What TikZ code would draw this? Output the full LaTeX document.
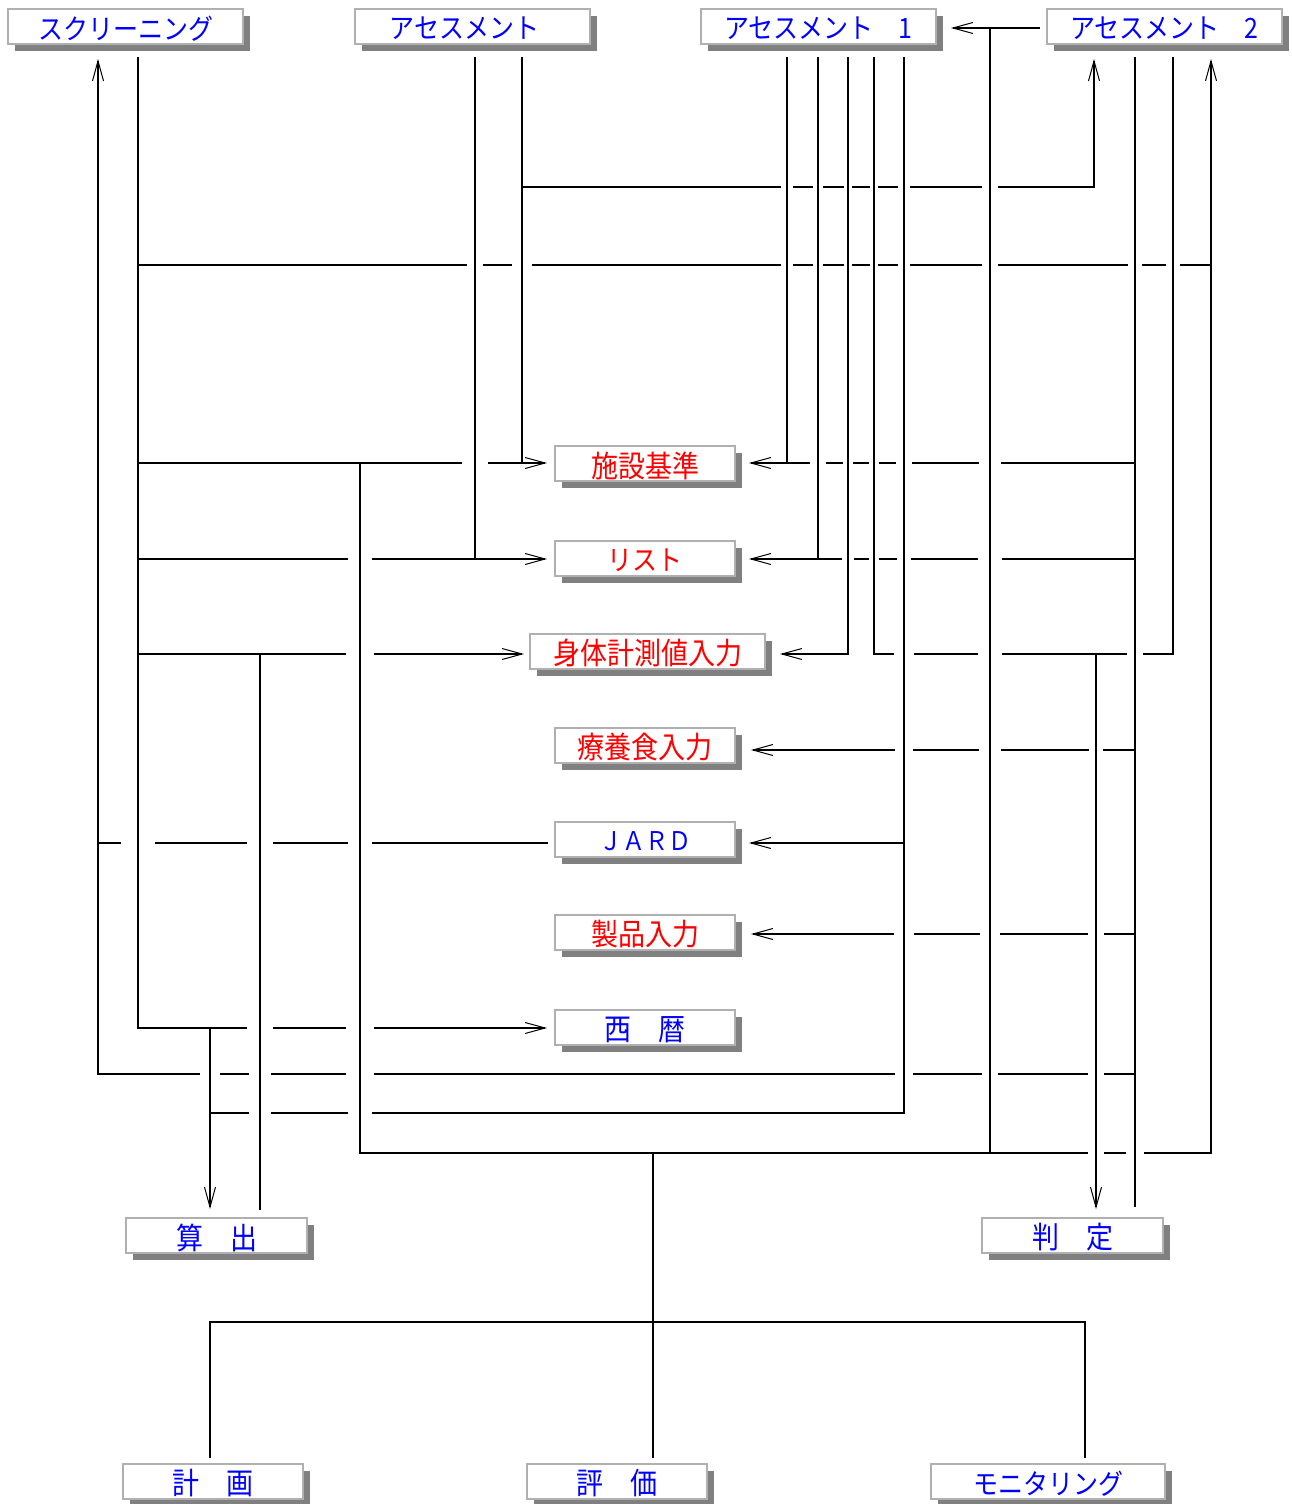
\documentclass[tikz,border=0pt]{standalone}
\usepackage{graphicx}
\usepackage{fontspec}
\newfontfamily\jpfont{Noto Sans CJK JP}
\usetikzlibrary{arrows.meta,shadows}
\definecolor{boxline}{HTML}{B0B0B0}
\definecolor{boxshadow}{HTML}{808080}
\definecolor{jblue}{HTML}{0000FF}
\definecolor{jred}{HTML}{FF0000}
\newcommand\lowtext[1]{\raisebox{-2pt}[\height][\depth]{\scalebox{1}[1.12]{#1}}}
\newcommand\wirehop[3]{\draw[eraser] (k#1 |- r#2) ++(-#3,0) -- ++(2*#3,0);}
\begin{document}
\begin{tikzpicture}[x=1pt,y=-1pt,
 wire/.style={line width=1.7pt,line cap=rect},
 arr/.style={wire,-{Straight Barb[length=20pt,width=11pt,line width=1pt]}},
 eraser/.style={draw=white,line width=5pt,line cap=butt},
 panel/.style={draw=boxline,line width=2pt,fill=white,inner sep=0pt,minimum height=35pt,
   drop shadow={shadow xshift=7pt,shadow yshift=-7pt,fill=boxshadow,opacity=1}},
 wbox/.style={minimum width=235pt},
 nbox/.style={minimum width=180pt},
 kana/.style={font=\jpfont\fontsize{25}{25}\selectfont},
 kanji/.style={font=\jpfont\fontsize{27}{27}\selectfont}]
\useasboundingbox[fill=white] (0,0) rectangle (1292,1504);

% boxes
\node[panel,wbox,kana,text=jblue] (scr) at (125.5,26.5) {\lowtext{スクリーニング}};
\node[panel,wbox,kana,text=jblue] (asm) at (472.5,26.5) {\lowtext{アセスメント\hspace{16pt}}};
\node[panel,wbox,kana,text=jblue] (asm1) at (818.5,26.5) {\lowtext{アセスメント　1}};
\node[panel,wbox,kana,text=jblue] (asm2) at (1164.5,26.5) {\lowtext{アセスメント　2}};
\node[panel,nbox,kanji,text=jred] (shisetsu) at (645,463.5) {\lowtext{施設基準}};
\node[panel,nbox,kana,text=jred] (list) at (645,558.5) {\lowtext{リスト}};
\node[panel,wbox,kanji,text=jred] (shintai) at (647.5,651.5) {\lowtext{身体計測値入力}};
\node[panel,nbox,kanji,text=jred] (ryoyo) at (645,745.5) {\lowtext{療養食入力}};
\node[panel,nbox,font=\jpfont\fontsize{23}{23}\selectfont,text=jblue] (jard) at (645,839.5) {\lowtext{ＪＡＲＤ}};
\node[panel,nbox,kanji,text=jred] (seihin) at (645,932.5) {\lowtext{製品入力}};
\node[panel,nbox,kanji,text=jblue] (seireki) at (645,1027.5) {\lowtext{西　暦}};
\node[panel,minimum width=181pt,kanji,text=jblue] (sanshutsu) at (216.5,1235.5) {\lowtext{算　出}};
\node[panel,minimum width=181pt,kanji,text=jblue] (hantei) at (1072.5,1235.5) {\lowtext{判　定}};
\node[panel,nbox,kanji,text=jblue] (keikaku) at (213,1481.5) {\lowtext{計　画}};
\node[panel,nbox,kanji,text=jblue] (hyoka) at (617,1481.5) {\lowtext{評　価}};
\node[panel,minimum width=234pt,kana,text=jblue] (monitor) at (1048,1481.5) {\lowtext{モニタリング}};

% grid of columns and rows
\foreach \c in {98,138,210,260,360,475,522,653,787,818,848,874,904,990,1085,1094,1096,1135,1173,1211}
  {\coordinate (k\c) at (\c,0);}
\foreach \r in {28,187,265,463,559,654,750,843,934,1028,1074,1113,1153,1322}
  {\coordinate (r\r) at (0,\r);}

% horizontal wires
\draw[arr,shorten <=7pt,shorten >=14pt] (asm2.west |- r28) -- (asm1.east |- r28);
\draw[wire] (k522 |- r187) -- (k1094 |- r187);
\draw[wire] (k138 |- r265) -- (k1211 |- r265);
\draw[arr,shorten >=7pt] (k138 |- r463) -- (shisetsu.west |- r463);
\draw[arr,shorten >=13pt] (k1135 |- r463) -- (shisetsu.east |- r463);
\draw[arr,shorten >=7pt] (k138 |- r559) -- (list.west |- r559);
\draw[arr,shorten >=13pt] (k1135 |- r559) -- (list.east |- r559);
\draw[arr,shorten >=5pt] (k138 |- r654) -- (shintai.west |- r654);
\draw[arr,shorten >=14pt] (k848 |- r654) -- (shintai.east |- r654);
\draw[wire] (k874 |- r654) -- (k1173 |- r654);
\draw[arr,shorten >=15pt] (k1135 |- r750) -- (ryoyo.east |- r750);
\draw[wire,shorten >=7pt] (k98 |- r843) -- (jard.west |- r843);
\draw[arr,shorten >=13pt] (k904 |- r843) -- (jard.east |- r843);
\draw[arr,shorten >=15pt] (k1135 |- r934) -- (seihin.east |- r934);
\draw[arr,shorten >=7pt] (k138 |- r1028) -- (seireki.west |- r1028);
\draw[wire] (k98 |- r1074) -- (k1135 |- r1074);
\draw[wire] (k210 |- r1113) -- (k904 |- r1113);
\draw[wire] (k360 |- r1153) -- (k1211 |- r1153);
\draw[wire] (k210 |- r1322) -- (k1085 |- r1322);

% hops (gaps where verticals cross)
\wirehop{787}{187}{6}\wirehop{818}{187}{5}\wirehop{848}{187}{4}\wirehop{874}{187}{4}\wirehop{904}{187}{6}\wirehop{990}{187}{8}
\wirehop{475}{265}{8}\wirehop{522}{265}{10}\wirehop{787}{265}{6}\wirehop{818}{265}{5}\wirehop{848}{265}{4}\wirehop{874}{265}{4}\wirehop{904}{265}{6}\wirehop{990}{265}{8}\wirehop{1135}{265}{7}\wirehop{1173}{265}{7}
\wirehop{475}{463}{13}\wirehop{818}{463}{8}\wirehop{848}{463}{5}\wirehop{874}{463}{5}\wirehop{904}{463}{8}\wirehop{990}{463}{11}
\wirehop{360}{559}{12}\wirehop{848}{559}{6}\wirehop{874}{559}{5}\wirehop{904}{559}{7}\wirehop{990}{559}{12}
\wirehop{360}{654}{14}\wirehop{904}{654}{10}\wirehop{990}{654}{12}\wirehop{1135}{654}{8}
\wirehop{904}{750}{9}\wirehop{990}{750}{11}\wirehop{1096}{750}{7}
\wirehop{138}{843}{17}\wirehop{260}{843}{13}\wirehop{360}{843}{12}
\wirehop{904}{934}{10}\wirehop{990}{934}{10}\wirehop{1096}{934}{8}
\wirehop{260}{1028}{13}\wirehop{360}{1028}{14}
\wirehop{210}{1074}{10}\wirehop{260}{1074}{11}\wirehop{360}{1074}{14}\wirehop{904}{1074}{9}\wirehop{990}{1074}{8}\wirehop{1096}{1074}{8}
\wirehop{260}{1113}{11}\wirehop{360}{1113}{12}
\wirehop{1096}{1153}{8}\wirehop{1135}{1153}{9}

% vertical wires
\draw[arr,shorten >=14pt] (k98 |- r1074) -- (scr.south -| k98);
\draw[wire,shorten <=13pt] (scr.south -| k138) -- (k138 |- r1028);
\draw[wire,shorten <=13pt] (asm.south -| k475) -- (k475 |- r559);
\draw[wire,shorten <=13pt] (asm.south -| k522) -- (k522 |- r463);
\draw[wire,shorten <=13pt] (asm1.south -| k787) -- (k787 |- r463);
\draw[wire,shorten <=13pt] (asm1.south -| k818) -- (k818 |- r559);
\draw[wire,shorten <=13pt] (asm1.south -| k848) -- (k848 |- r654);
\draw[wire,shorten <=13pt] (asm1.south -| k874) -- (k874 |- r654);
\draw[wire,shorten <=13pt] (asm1.south -| k904) -- (k904 |- r1113);
\draw[wire] (k990 |- r28) -- (k990 |- r1153);
\draw[arr,shorten >=14pt] (k1094 |- r187) -- (asm2.south -| k1094);
\draw[wire,shorten <=13pt,shorten >=11pt] (asm2.south -| k1135) -- (hantei.north -| k1135);
\draw[wire,shorten <=13pt] (asm2.south -| k1173) -- (k1173 |- r654);
\draw[arr,shorten >=14pt] (k1211 |- r1153) -- (asm2.south -| k1211);
\draw[arr,shorten >=8pt] (k210 |- r1028) -- (sanshutsu.north -| k210);
\draw[wire,shorten >=8pt] (k260 |- r654) -- (sanshutsu.north -| k260);
\draw[wire] (k360 |- r463) -- (k360 |- r1153);
\draw[arr,shorten >=8pt] (k1096 |- r654) -- (hantei.north -| k1096);
\draw[wire,shorten >=6pt] (k653 |- r1153) -- (hyoka.north -| k653);
\draw[wire,shorten >=6pt] (k210 |- r1322) -- (keikaku.north -| k210);
\draw[wire,shorten >=6pt] (k1085 |- r1322) -- (monitor.north -| k1085);
\end{tikzpicture}
\end{document}
